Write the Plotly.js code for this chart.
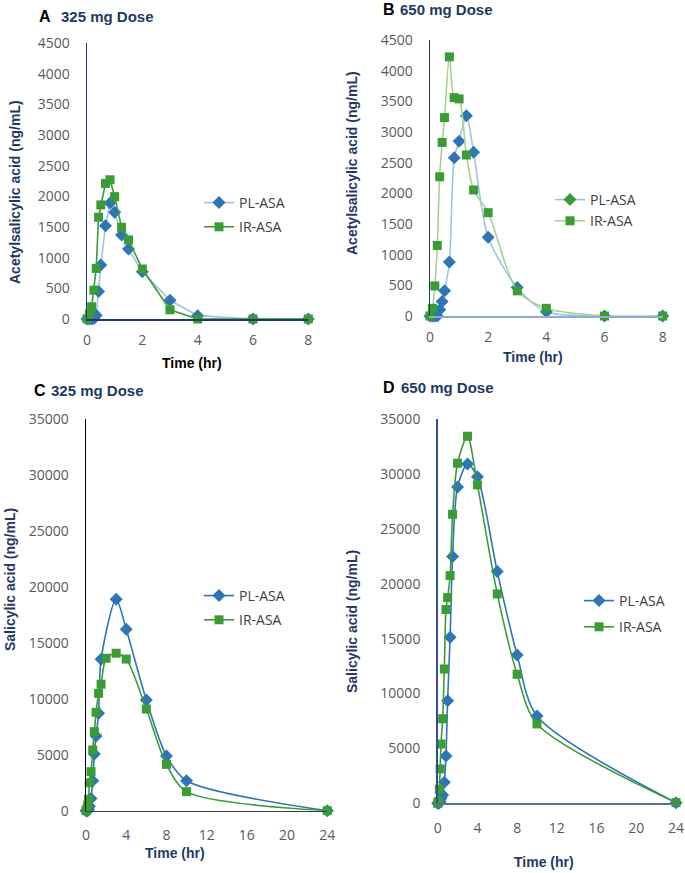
<!DOCTYPE html>
<html><head><meta charset="utf-8">
<script src="https://cdn.plot.ly/plotly-3.0.1.min.js"></script>
<style>html,body{margin:0;padding:0;background:#fff}#chart{width:685px;height:873px}</style>
</head><body><div id="chart"></div>
<script>
// ---------- DATA ----------
// Panel A: acetylsalicylic acid, 325 mg dose
const tA = [0, 0.083, 0.167, 0.25, 0.333, 0.417, 0.5, 0.667, 0.833, 1, 1.25, 1.5, 2, 3, 4, 6, 8];
const A_PL = [0, 0, 0, 10, 60, 450, 880, 1520, 1890, 1740, 1370, 1140, 770, 305, 55, 0, 0];
const A_IR = [0, 80, 200, 470, 825, 1660, 1860, 2210, 2270, 1995, 1495, 1290, 815, 150, 0, 0, 0];
// Panel B: acetylsalicylic acid, 650 mg dose
const tB = [0, 0.083, 0.167, 0.25, 0.333, 0.417, 0.5, 0.667, 0.833, 1, 1.25, 1.5, 2, 3, 4, 6, 8];
const B_PL = [0, 0, 0, 0, 100, 235, 410, 880, 2580, 2850, 3265, 2670, 1285, 465, 70, 0, 0];
const B_IR = [0, 125, 490, 1150, 2270, 2830, 3235, 4225, 3560, 3540, 2625, 2055, 1685, 410, 125, 0, 0];
// Panel C: salicylic acid, 325 mg dose
const tC_PL = [0, 0.083, 0.167, 0.25, 0.333, 0.5, 0.667, 0.833, 1, 1.25, 1.5, 3, 4, 6, 8, 10, 24];
const C_PL = [0, 0, 0, 100, 400, 1100, 2680, 5070, 6680, 8700, 13530, 18890, 16210, 9890, 4890, 2680, 0];
const tC_IR = [0, 0.083, 0.167, 0.25, 0.333, 0.5, 0.667, 0.833, 1, 1.25, 1.5, 2, 3, 4, 6, 8, 10, 24];
const C_IR = [0, 150, 500, 1020, 2500, 3485, 5420, 7060, 8790, 10490, 11300, 13620, 14070, 13550, 9085, 4140, 1700, 0];
// Panel D: salicylic acid, 650 mg dose
const tD = [0, 0.083, 0.167, 0.25, 0.333, 0.5, 0.667, 0.833, 1, 1.25, 1.5, 2, 3, 4, 6, 8, 10, 24];
const D_PL = [0, 0, 50, 150, 450, 760, 1910, 4310, 9350, 15120, 22470, 28810, 30900, 29750, 21100, 13510, 7950, 60];
const D_IR = [0, 150, 1275, 3130, 5400, 7700, 12230, 17650, 18730, 20740, 26320, 30970, 33430, 29000, 19070, 11750, 7225, 60];

const seriesNames = ['PL-ASA', 'IR-ASA'];
const panelLetters = ['A', 'B', 'C', 'D'];
const panelTitles = ['325 mg Dose', '650 mg Dose', '325 mg Dose', '650 mg Dose'];
const yTitleASA = 'Acetylsalicylic acid (ng/mL)';
const yTitleSA = 'Salicylic acid (ng/mL)';
const xTitle = 'Time (hr)';

// ---------- STYLE ----------
const W = 685, H = 873;
const px = p => p / W;
const py = p => 1 - p / H;
const BLUE = '#2e75b6', GREEN = '#3b9b35';
const LBLUE = '#9dc3e6', LGREEN = '#a9d18e';
const NAVY = '#1f3864';
const tickFont = {family: 'Open Sans, sans-serif', size: 14, color: '#595959'};
const legFont = {family: 'Open Sans, sans-serif', size: 14, color: '#404040'};
const titleFont = (c, s) => ({family: 'Liberation Sans, Arial, sans-serif', size: s || 14, color: c, weight: 'bold'});

function tr(x, y, name, ax, lineColor, mColor, symbol, shape, legend, extra) {
  return Object.assign({
    type: 'scatter', mode: 'lines+markers', x: x, y: y, name: name,
    xaxis: 'x' + ax, yaxis: 'y' + ax, legend: legend, legendgroup: legend + name,
    cliponaxis: false,
    line: {color: lineColor, width: 1.6, shape: shape, smoothing: 0.8},
    marker: {color: mColor, symbol: symbol, size: symbol === 'square' ? 9 : 10}
  }, extra || {});
}

const data = [
  tr(tA, A_PL, seriesNames[0], '', LBLUE, BLUE, 'diamond', 'linear', 'legend'),
  tr(tA, A_IR, seriesNames[1], '', GREEN, GREEN, 'square', 'linear', 'legend'),
  tr(tB, B_PL, seriesNames[0], '2', LBLUE, BLUE, 'diamond', 'spline', 'legend2', {showlegend: false}),
  tr([null], [null], seriesNames[0], '2', LBLUE, GREEN, 'diamond', 'linear', 'legend2'),
  tr(tB, B_IR, seriesNames[1], '2', LGREEN, GREEN, 'square', 'spline', 'legend2'),
  tr(tC_PL, C_PL, seriesNames[0], '3', BLUE, BLUE, 'diamond', 'spline', 'legend3'),
  tr(tC_IR, C_IR, seriesNames[1], '3', GREEN, GREEN, 'square', 'spline', 'legend3'),
  tr(tD, D_PL, seriesNames[0], '4', BLUE, BLUE, 'diamond', 'spline', 'legend4'),
  tr(tD, D_IR, seriesNames[1], '4', GREEN, GREEN, 'square', 'spline', 'legend4')
];

function xax(dom, range, dtick, lc, anchor, so) {
  return {domain: [px(dom[0]), px(dom[1])], range: range, dtick: dtick, tick0: 0,
    showgrid: false, zeroline: false, showline: true, linecolor: lc, linewidth: 1.5,
    ticks: '', tickfont: tickFont, ticklabelstandoff: so, anchor: anchor, fixedrange: true};
}
function yax(dom, range, dtick, lc, anchor) {
  return {domain: [py(dom[1]), py(dom[0])], range: range, dtick: dtick, tick0: 0, tickformat: 'd',
    showgrid: false, zeroline: false, showline: true, linecolor: lc, linewidth: 1.5,
    ticks: '', tickfont: tickFont, ticklabelstandoff: 13, anchor: anchor, fixedrange: true};
}
function leg(xp, yp, gap) {
  return {x: px(xp), y: py(yp), xanchor: 'left', yanchor: 'top', xref: 'paper', yref: 'paper',
    font: legFont, bgcolor: 'rgba(0,0,0,0)', traceorder: 'grouped', tracegroupgap: gap, borderwidth: 0};
}
function ann(text, xp, yp, font, opts) {
  return Object.assign({text: text, x: px(xp), y: py(yp), xref: 'paper', yref: 'paper',
    showarrow: false, font: font, xanchor: 'left', yanchor: 'middle'}, opts || {});
}
const letterFont = {family: 'Liberation Sans, Arial, sans-serif', size: 16, color: '#000', weight: 'bold'};

const layout = {
  width: W, height: H, margin: {l: 0, r: 0, t: 0, b: 0},
  paper_bgcolor: '#fff', plot_bgcolor: 'rgba(0,0,0,0)',
  xaxis: xax([87, 308.3], [0, 8], 2, NAVY, 'y', 8),
  yaxis: yax([43, 319], [0, 4500], 500, NAVY, 'x'),
  xaxis2: xax([430, 662.7], [0, 8], 2, '#8fa9d8', 'y2', 8),
  yaxis2: yax([40, 316], [0, 4500], 500, NAVY, 'x2'),
  xaxis3: xax([86, 327.3], [0, 24], 4, '#404040', 'y3', 11),
  yaxis3: yax([419, 810.7], [0, 35000], 5000, '#000000', 'x3'),
  xaxis4: xax([437.7, 676], [0, 24], 4, '#5b6e9a', 'y4', 11),
  yaxis4: yax([419, 803.3], [0, 35000], 5000, '#2f4f8f', 'x4'),
  legend: leg(199, 187, 3),
  legend2: leg(550, 184, 0),
  legend3: leg(199, 580, 3),
  legend4: leg(579, 585, 5),
  annotations: [
    ann(panelLetters[0], 37, 16, letterFont),
    ann(panelTitles[0], 59, 16, titleFont(NAVY, 15)),
    ann(panelLetters[1], 381, 10, letterFont),
    ann(panelTitles[1], 398, 10, titleFont(NAVY, 15)),
    ann(panelLetters[2], 32, 391, letterFont),
    ann(panelTitles[2], 49, 391, titleFont(NAVY, 15)),
    ann(panelLetters[3], 381, 387, letterFont),
    ann(panelTitles[3], 399, 387, titleFont(NAVY, 15)),
    ann(xTitle, 192, 363, titleFont('#000'), {xanchor: 'center'}),
    ann(xTitle, 533, 357, titleFont(NAVY), {xanchor: 'center'}),
    ann(xTitle, 175, 853, titleFont(NAVY), {xanchor: 'center'}),
    ann(xTitle, 544, 862, titleFont(NAVY), {xanchor: 'center'}),
    ann(yTitleASA, 15, 192, titleFont(NAVY), {xanchor: 'center', textangle: -90}),
    ann(yTitleASA, 352, 163, titleFont(NAVY), {xanchor: 'center', textangle: -90}),
    ann(yTitleSA, 10, 580, titleFont(NAVY), {xanchor: 'center', textangle: -90}),
    ann(yTitleSA, 352, 622, titleFont(NAVY), {xanchor: 'center', textangle: -90})
  ]
};

Plotly.newPlot('chart', data, layout, {displayModeBar: false, staticPlot: true});
</script>
</body></html>
